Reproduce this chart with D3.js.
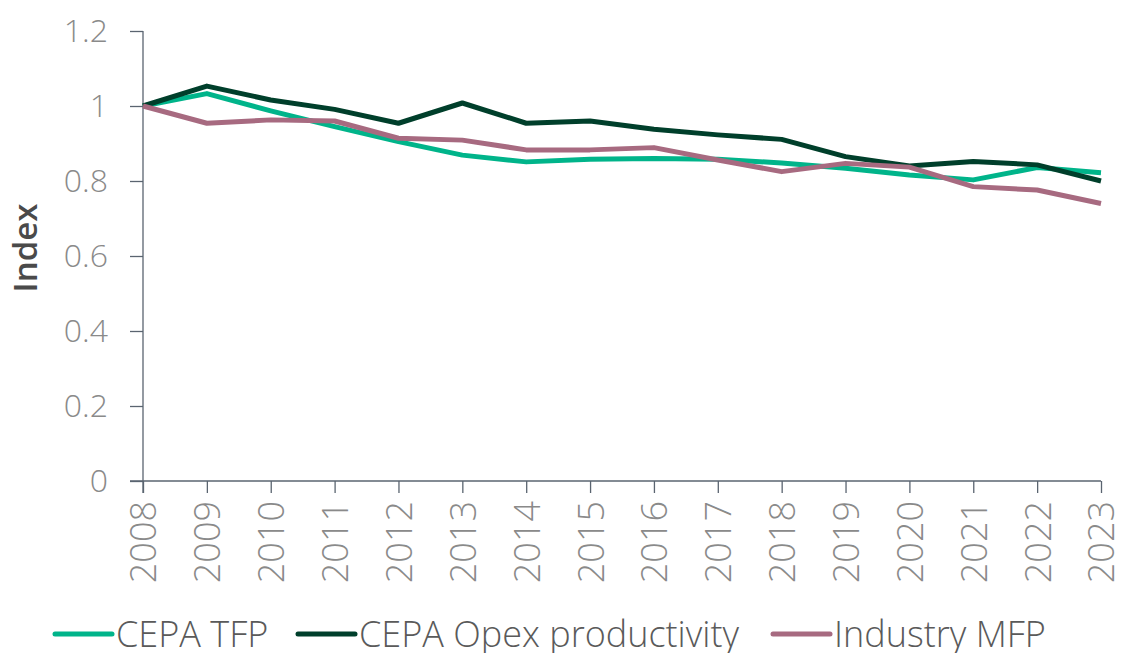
<!DOCTYPE html>
<html><head><meta charset="utf-8">
<script src="https://cdn.jsdelivr.net/npm/d3@7"></script>
<style>body{margin:0;background:#fff}svg{display:block}text{font-family:"Open Sans",sans-serif}</style>
</head><body><svg id="c" width="1121" height="653"></svg>
<script>
const years = [2008,2009,2010,2011,2012,2013,2014,2015,2016,2017,2018,2019,2020,2021,2022,2023];
const cepaTFP = [1.0,1.033,0.987,0.945,0.905,0.869,0.851,0.858,0.86,0.858,0.848,0.834,0.816,0.803,0.836,0.822];
const cepaOpex = [1.0,1.053,1.016,0.991,0.954,1.008,0.954,0.96,0.938,0.923,0.911,0.865,0.84,0.852,0.843,0.8];
const industryMFP = [1.0,0.954,0.963,0.96,0.914,0.909,0.883,0.883,0.889,0.856,0.825,0.847,0.837,0.785,0.776,0.74];
const yTicks = [0,0.2,0.4,0.6,0.8,1,1.2];
const seriesNames = ["CEPA TFP","CEPA Opex productivity","Industry MFP"];
const seriesColors = ["#00b48a","#003f2b","#a76a80"];
const seriesData = [cepaTFP, cepaOpex, industryMFP];

const svg = d3.select("#c");
const x = d3.scaleLinear().domain([2008,2023]).range([143,1101]);
const y = d3.scaleLinear().domain([0,1.2]).range([481,31]);
const axisColor = "#5a6470", labelColor = "#8a8a8a";

// y axis
const ya = svg.append("g").attr("transform","translate(143,0)")
  .call(d3.axisLeft(y).tickValues(yTicks).tickSize(13).tickSizeOuter(0).tickPadding(22)
    .tickFormat(d=>String(d)));
ya.select(".domain").remove();
ya.selectAll(".tick line").attr("stroke",axisColor).attr("stroke-width",1.3);
ya.selectAll(".tick text").attr("fill",labelColor).style("font-size","32px").style("font-weight","300");
svg.append("line").attr("x1",143).attr("x2",143).attr("y1",y(1.2)).attr("y2",493)
  .attr("stroke",axisColor).attr("stroke-width",1.3);

// x axis
const xa = svg.append("g").attr("transform","translate(0,481)")
  .call(d3.axisBottom(x).tickValues(years).tickSize(12).tickSizeOuter(0).tickFormat(d3.format("d")));
xa.select(".domain").remove();
xa.selectAll(".tick line").attr("stroke",axisColor).attr("stroke-width",1.3);
xa.selectAll(".tick text").attr("fill",labelColor).style("font-size","36px").style("font-weight","300")
  .attr("transform","rotate(-90)").attr("text-anchor","end").attr("x",-20).attr("y",0).attr("dy","0.36em");
svg.append("line").attr("x1",130).attr("x2",1101).attr("y1",481).attr("y2",481)
  .attr("stroke",axisColor).attr("stroke-width",1.3);

// y label
svg.append("text").attr("transform","translate(37,248) rotate(-90)").attr("text-anchor","middle")
  .attr("fill","#4a4a4a").style("font-size","33px").style("font-weight","600").text("Index");

// lines
const line = d3.line().x((d,i)=>x(years[i])).y(d=>y(d));
seriesData.forEach((s,k)=>{
  svg.append("path").datum(s).attr("d",line).attr("fill","none")
    .attr("stroke",seriesColors[k]).attr("stroke-width",5).attr("stroke-linejoin","round");
});

// legend
const legX = [55,298,773];
seriesNames.forEach((n,k)=>{
  const g = svg.append("g").attr("transform",`translate(${legX[k]},634)`);
  g.append("line").attr("x1",0).attr("x2",57).attr("y1",0).attr("y2",0)
    .attr("stroke",seriesColors[k]).attr("stroke-width",5).attr("stroke-linecap","round");
  g.append("text").attr("x",61).attr("y",0).attr("dy","0.35em").attr("fill","#5a5a5a")
    .style("font-size","36px").style("font-weight","300").text(n);
});
</script></body></html>
